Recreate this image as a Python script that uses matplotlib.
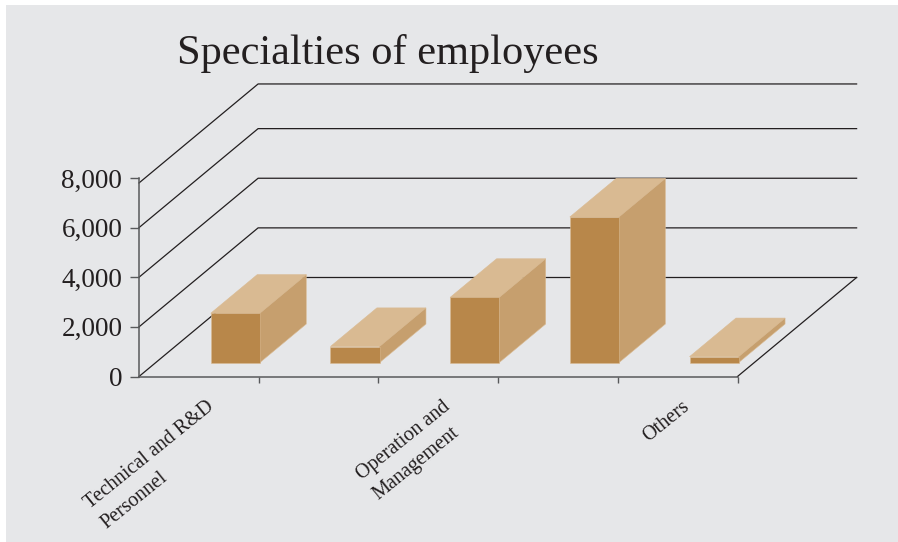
import matplotlib
matplotlib.use("Agg")
import matplotlib.pyplot as plt
from matplotlib.patches import Rectangle

plt.rcParams['font.family'] = ['Liberation Serif', 'DejaVu Serif']

# values per specialty, only every other category carries a label
values = [1990, 650, 2630, 5870, 240]
category_labels = ["Technical and R&D\nPersonnel", "", "Operation and\nManagement", "", "Others"]
y_ticks = [0, 2000, 4000, 6000, 8000]
y_tick_labels = ["0", "2,000", "4,000", "6,000", "8,000"]
grid_levels = [0, 2000, 4000, 6000, 7800]

W, H = 898, 542
PANEL = "#E6E7E9"
LINE = "#231F20"
AXIS = "#58595B"
FRONT = "#B8874A"
SIDE = "#C69F6E"
TOP = "#D9BA92"

# oblique depth: one unit of depth moves this far in data units
DEPTH_X = 0.995
DEPTH_Y = 3990
BAR_OFFSET = 0.46
BAR_WIDTH = 0.41
DEPTH_START = 0.14
DEPTH_END = 0.53


def project(x, value, depth):
    return x + depth * DEPTH_X, value + depth * DEPTH_Y


def face(ax, corners, color, zorder):
    pts = [project(*c) for c in corners]
    ax.fill([p[0] for p in pts], [p[1] for p in pts], facecolor=color,
            edgecolor=TOP, lw=0.4, clip_on=False, zorder=zorder)


fig = plt.figure(figsize=(W / 100, H / 100), dpi=100, facecolor="white")
fig.add_artist(Rectangle((6 / W, 0), (W - 6) / W, 537 / H,
                         transform=fig.transFigure, facecolor=PANEL, edgecolor="none", zorder=-5))

ax = fig.add_axes([139 / W, 1 - 376.5 / H, 598.5 / W, 198.5 / H])
ax.patch.set_visible(False)
ax.set_xlim(0, 5)
ax.set_ylim(0, 8000)

for side in ("top", "right"):
    ax.spines[side].set_visible(False)
for side in ("left", "bottom"):
    ax.spines[side].set_color(AXIS)
    ax.spines[side].set_linewidth(1.1)
    ax.spines[side].set_zorder(3)

ax.set_yticks(y_ticks, y_tick_labels, fontsize=19.5, color=LINE)
ax.tick_params(axis="y", length=6.5, width=1.0, color=AXIS, pad=5.5)

# walls and floor
for level in grid_levels:
    pts = [project(0, level, 0), project(0, level, 1), project(5, level, 1)]
    ax.plot([p[0] for p in pts], [p[1] for p in pts], color=LINE, lw=0.9,
            clip_on=False, zorder=1)
pts = [project(5, 0, 0), project(5, 0, 1)]
ax.plot([p[0] for p in pts], [p[1] for p in pts], color=LINE, lw=0.9, clip_on=False, zorder=1)

# boxes
for i, v in enumerate(values):
    x0 = i + BAR_OFFSET
    x1 = x0 + BAR_WIDTH
    z = 5 + i
    face(ax, [(x0, v, DEPTH_START), (x1, v, DEPTH_START), (x1, v, DEPTH_END), (x0, v, DEPTH_END)], TOP, z)
    face(ax, [(x1, 0, DEPTH_START), (x1, 0, DEPTH_END), (x1, v, DEPTH_END), (x1, v, DEPTH_START)], SIDE, z)
    face(ax, [(x0, 0, DEPTH_START), (x1, 0, DEPTH_START), (x1, v, DEPTH_START), (x0, v, DEPTH_START)], FRONT, z)

ax.set_xticks(range(1, 6), [""] * 5)
ax.tick_params(axis="x", which="major", length=4.5, width=1.0, color=AXIS)

# category names sit near the slot centres
ax.set_xticks([0.56, 1.5, 2.53, 3.5, 4.53], category_labels, minor=True)
ax.tick_params(axis="x", which="minor", length=0, pad=15)
for label in ax.get_xticklabels(minor=True):
    label.set(rotation=39, ha="right", va="top", rotation_mode="anchor",
              multialignment="left", fontsize=14.5, color=LINE, linespacing=1.5)

fig.text(177 / W, 1 - 64 / H, "Specialties of employees", fontsize=30.5, color=LINE,
         ha="left", va="baseline")

fig.savefig("out.png", dpi=100)
